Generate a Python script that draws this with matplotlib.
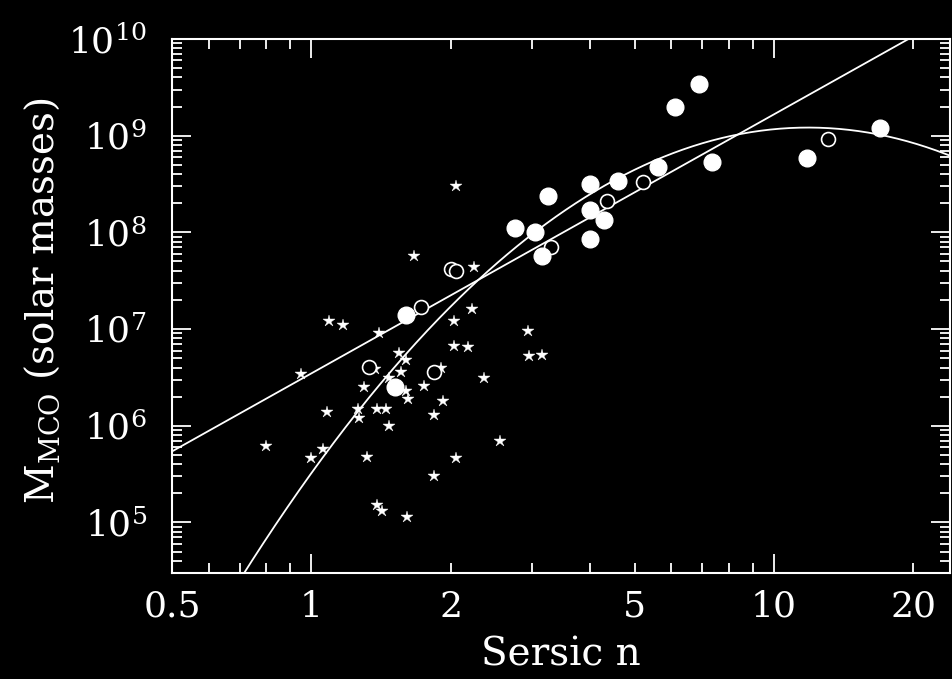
import numpy as np
import matplotlib.pyplot as plt
from matplotlib.ticker import FixedLocator, FuncFormatter, LogLocator, NullFormatter

plt.rcParams['font.family'] = ['DejaVu Serif']
plt.rcParams['mathtext.fontset'] = 'dejavuserif'

# galaxies with filled circles
filled_n = [6.9, 6.1, 3.25, 2.75, 3.05, 4.0, 4.6, 5.6, 7.35, 4.0, 4.3, 4.0, 3.15, 11.8, 16.9, 1.6, 1.52]
filled_m = [3.4e9, 2.0e9, 2.4e8, 1.1e8, 1.0e8, 3.2e8, 3.4e8, 4.8e8, 5.3e8, 1.7e8, 1.35e8, 8.6e7, 5.7e7,
            5.9e8, 1.2e9, 1.4e7, 2.5e6]

# open circles
open_n = [5.2, 4.35, 3.3, 13.1, 1.73, 2.0, 2.05, 1.33, 1.84]
open_m = [3.3e8, 2.1e8, 7.0e7, 9.3e8, 1.7e7, 4.2e7, 3.95e7, 4.1e6, 3.6e6]

# stars (nuclear clusters)
star_n = [2.05, 1.67, 2.25, 2.22, 2.03, 1.09, 1.17, 1.40, 2.03, 2.18,
          2.94, 2.96, 3.15, 1.55, 1.60, 1.37, 1.91, 1.56, 2.36, 1.30,
          1.75, 1.60, 1.62, 1.93, 1.26, 1.39, 1.45, 1.84, 1.27, 1.47,
          0.95, 1.08, 0.80, 1.06, 1.00, 1.32, 2.05, 2.56, 1.84, 1.39,
          1.42, 1.61, 1.47, 2.03]
star_m = [3.0e8, 5.7e7, 4.4e7, 1.6e7, 1.2e7, 1.2e7, 1.1e7, 9.0e6, 6.7e6, 6.6e6,
          9.6e6, 5.3e6, 5.4e6, 5.7e6, 4.8e6, 3.9e6, 4.0e6, 3.6e6, 3.1e6, 2.5e6,
          2.6e6, 2.3e6, 1.9e6, 1.8e6, 1.5e6, 1.5e6, 1.5e6, 1.3e6, 1.2e6, 1.0e6,
          3.4e6, 1.4e6, 6.2e5, 5.7e5, 4.6e5, 4.7e5, 4.6e5, 6.9e5, 3.0e5, 1.5e5,
          1.3e5, 1.15e5, 3.1e6, 4.1e7]

# fitted relations: log M = a + b*log(n/3) (+ c*log(n/3)^2)
lin_a, lin_b = 7.82, 2.68
quad_a, quad_b, quad_c = 7.98, 3.70, -3.10

x_labels = [1, 2, 5, 10, 20]

fig = plt.figure(figsize=(9.52, 6.79), dpi=100, facecolor='black')
ax = fig.add_axes([172 / 952, 1 - 573 / 679, 778 / 952, 534 / 679])
ax.set_facecolor('black')
ax.set_xscale('log')
ax.set_yscale('log')
ax.set_xlim(0.5, 24)
ax.set_ylim(3e4, 1e10)

n = np.logspace(np.log10(0.5), np.log10(24), 400)
x = np.log10(n / 3)
ax.plot(n, 10 ** (lin_a + lin_b * x), color='white', lw=1.3, zorder=2)
ax.plot(n, 10 ** (quad_a + quad_b * x + quad_c * x ** 2), color='white', lw=1.3, zorder=2)

ax.plot(star_n, star_m, ls='none', marker='*', ms=9, mfc='white', mec='white', mew=0.3, zorder=3)
ax.plot(open_n, open_m, ls='none', marker='o', ms=10, mfc='black', mec='white', mew=1.2, zorder=4)
ax.plot(filled_n, filled_m, ls='none', marker='o', ms=12, mfc='white', mec='white', zorder=5)

# ticks
ax.xaxis.set_major_locator(FixedLocator([1, 10]))
ax.xaxis.set_minor_locator(FixedLocator([0.6, 0.7, 0.8, 0.9, 2, 3, 4, 5, 6, 7, 8, 9, 20]))
fmt_x = FuncFormatter(lambda v, p: f'{v:g}' if any(abs(v - t) < 1e-6 for t in x_labels) else '')
ax.xaxis.set_major_formatter(fmt_x)
ax.xaxis.set_minor_formatter(fmt_x)
ax.yaxis.set_major_locator(LogLocator(base=10, numticks=20))
ax.yaxis.set_minor_locator(LogLocator(base=10, subs=np.arange(2, 10), numticks=20))
ax.yaxis.set_major_formatter(FuncFormatter(lambda v, p: r'$10^{%d}$' % round(np.log10(v))))
ax.yaxis.set_minor_formatter(NullFormatter())

ax.tick_params(which='both', direction='in', top=True, right=True, color='white',
               labelcolor='white', labelsize=26, width=1.3)
ax.tick_params(which='major', length=14)
ax.tick_params(which='minor', length=7)
ax.tick_params(axis='x', which='both', pad=12)
ax.tick_params(axis='y', which='both', pad=18)

# 0.5 sits on the left edge: label it separately
ax.annotate('0.5', xy=(0.5, 0), xycoords=('data', 'axes fraction'), xytext=(0, -12),
            textcoords='offset points', ha='center', va='top', color='white', fontsize=26)

for sp in ax.spines.values():
    sp.set_color('white')
    sp.set_linewidth(1.5)

ax.set_xlabel('Sersic n', color='white', fontsize=28, labelpad=9)
fig.text(42 / 952, 1 - 301 / 679, r'M$_{\mathrm{MCO}}$ (solar masses)', rotation=90,
         ha='center', va='center', color='white', fontsize=28)

fig.savefig('out.png', dpi=100, facecolor='black')
